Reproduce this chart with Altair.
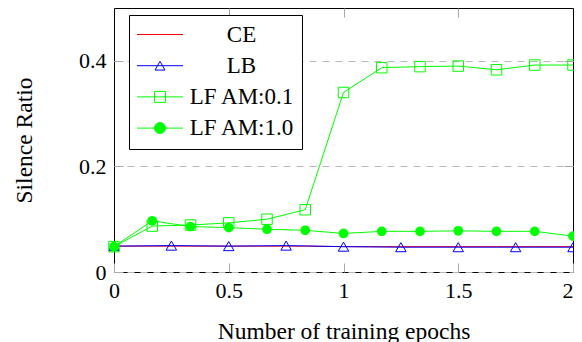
import altair as alt
import pandas as pd

# ---- data ----
x_fine = [0, 0.1667, 0.3333, 0.5, 0.6667, 0.8333, 1.0, 1.1667, 1.3333, 1.5, 1.6667, 1.8333, 2.0]
ce_y = [0.049, 0.049, 0.049, 0.049, 0.049, 0.049, 0.048, 0.048, 0.048, 0.048, 0.048, 0.048, 0.048]
lb_x = [0, 0.25, 0.5, 0.75, 1.0, 1.25, 1.5, 1.75, 2.0]
lb_y = [0.049, 0.050, 0.049, 0.050, 0.048, 0.047, 0.047, 0.047, 0.047]
lf01_y = [0.048, 0.087, 0.089, 0.093, 0.100, 0.118, 0.340, 0.387, 0.389, 0.390, 0.383, 0.392, 0.392]
lf10_y = [0.048, 0.097, 0.086, 0.084, 0.081, 0.079, 0.073, 0.077, 0.077, 0.078, 0.077, 0.077, 0.068]

series = ["CE", "LB", "LF AM:0.1", "LF AM:1.0"]
colors = ["#ff0000", "#0000ff", "#00ff00", "#00ff00"]
x_ticks = [0, 0.5, 1, 1.5, 2]
y_ticks = [0, 0.2, 0.4]

rows = []
for x, y in zip(x_fine, ce_y):
    rows.append({"x": x, "y": y, "s": "CE"})
for x, y in zip(lb_x, lb_y):
    rows.append({"x": x, "y": y, "s": "LB"})
for x, y in zip(x_fine, lf01_y):
    rows.append({"x": x, "y": y, "s": "LF AM:0.1"})
for x, y in zip(x_fine, lf10_y):
    rows.append({"x": x, "y": y, "s": "LF AM:1.0"})
df = pd.DataFrame(rows)

FONT = "Liberation Serif"
TICK = "#a8a8a8"

color_scale = alt.Scale(domain=series, range=colors)
xs = alt.Scale(domain=[0, 2], nice=False, zero=False)
ys = alt.Scale(domain=[0, 0.5], nice=False, zero=False)

# legend symbol paths (line sample + marker); unit = 5px
EXT = "M24.9,0"
P_CE = "M-4.6,0H4.6" + EXT
P_LB = "M-4.6,0H4.6M0,-0.87L1,0.87H-1Z" + EXT
P_SQ = "M-4.6,0H4.6M-1.1,-1.1H1.1V1.1H-1.1Z" + EXT
P_CI = "M-4.6,0H4.6M-1.1,0A1.1,1.1 0 1,0 1.1,0A1.1,1.1 0 1,0 -1.1,0Z" + EXT

shape_expr = (
    f"datum.value === 'CE' ? '{P_CE}' : "
    f"datum.value === 'LB' ? '{P_LB}' : "
    f"datum.value === 'LF AM:0.1' ? '{P_SQ}' : '{P_CI}'"
)
fill_expr = "datum.value === 'LF AM:1.0' ? '#00ff00' : 'transparent'"

legend = alt.Legend(
    title=None,
    orient="none",
    legendX=15,
    legendY=7,
    padding=8,
    rowPadding=7.2,
    strokeColor="black",
    fillColor="white",
    symbolSize=100,
    symbolStrokeWidth=1,
    symbolOffset=11.5,
    symbolOpacity=1,
    symbolType=alt.ExprRef(expr=shape_expr),
    symbolFillColor=alt.ExprRef(expr=fill_expr),
    labelOffset=70,
    labelAlign="center",
    labelFont=FONT,
    labelFontSize=23,
    labelColor="black",
    labelLimit=400,
)

x_bottom = alt.Axis(
    orient="bottom", values=x_ticks, format="~g", offset=-9, tickSize=9,
    tickColor=TICK, tickWidth=1, domain=False, grid=False, labelPadding=8,
    labelFont=FONT, labelFontSize=22, labelColor="black", labelFlush=False,
    labelOverlap=False,
    labelAlign={"condition": {"test": "datum.value >= 2", "value": "right"},
                "value": "center"},
    title="Number of training epochs", titleFont=FONT,
    titleFontSize=23.5, titleFontWeight="normal", titleColor="black",
    titleY=75, titleBaseline="alphabetic",
)
y_left = alt.Axis(
    orient="left", values=y_ticks, format="~g", offset=-9, tickSize=9,
    tickColor=TICK, tickWidth=1, domain=False, grid=True, gridColor="#b8b8b8",
    gridDash=[7, 6], gridWidth=1, labelPadding=8, labelFont=FONT,
    labelFontSize=22, labelColor="black", labelOverlap=False,
    title="Silence Ratio", titleFont=FONT, titleFontSize=23.5,
    titleFontWeight="normal", titleColor="black", titleX=-92,
    titleBaseline="alphabetic",
)
x_top = alt.Axis(
    orient="top", values=[0.5, 1, 1.5], offset=-9, tickSize=9, tickColor=TICK,
    domain=False, labels=False, grid=False, title=None,
)
y_right = alt.Axis(
    orient="right", values=[0.2, 0.4], offset=-9, tickSize=9, tickColor=TICK,
    domain=False, labels=False, grid=False, title=None,
)

base = alt.Chart(df)

lines = base.mark_line(strokeWidth=1).encode(
    x=alt.X("x:Q", scale=xs, axis=x_bottom),
    y=alt.Y("y:Q", scale=ys, axis=y_left),
    color=alt.Color("s:N", scale=color_scale, legend=legend),
)

hollow = base.transform_filter(
    "datum.s === 'LB' || datum.s === 'LF AM:0.1'"
).mark_point(filled=False, size=110, strokeWidth=1, opacity=1).encode(
    x=alt.X("x:Q", scale=xs, axis=None),
    y=alt.Y("y:Q", scale=ys, axis=None),
    color=alt.Color("s:N", scale=color_scale, legend=None),
    shape=alt.Shape("s:N", scale=alt.Scale(domain=["LB", "LF AM:0.1"],
                                            range=["triangle-up", "square"]),
                    legend=None),
)

filled = base.transform_filter("datum.s === 'LF AM:1.0'").mark_circle(
    size=95, opacity=1, color="#00ff00"
).encode(
    x=alt.X("x:Q", scale=xs, axis=None),
    y=alt.Y("y:Q", scale=ys, axis=None),
)

frame_axes = base.mark_line(opacity=0).encode(
    x=alt.X("x:Q", scale=xs, axis=x_top),
    y=alt.Y("y:Q", scale=ys, axis=y_right),
)

chart = alt.layer(lines, hollow, filled, frame_axes).resolve_axis(
    x="independent", y="independent"
).properties(
    width=459,
    height=264,
    autosize=alt.AutoSizeParams(type="none"),
    padding={"left": 106, "top": 0, "right": 1, "bottom": 70},
).configure_view(stroke="black", strokeWidth=1)

chart.save("out.html", embed_options={"renderer": "svg", "actions": False})
